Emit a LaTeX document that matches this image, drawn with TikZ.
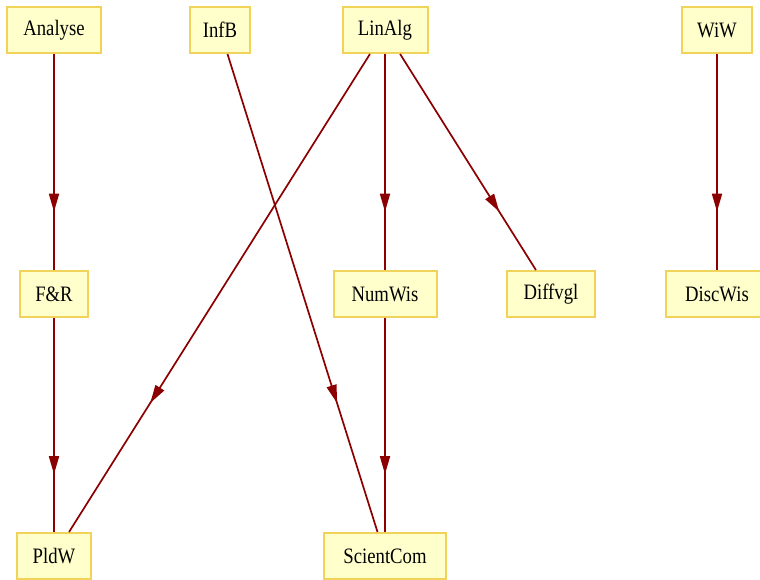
\documentclass[tikz,border=0pt]{standalone}
\usepackage{fontspec}
\setmainfont{Liberation Serif}[FakeStretch=0.85]
\usetikzlibrary{arrows.meta,decorations.markings}
\definecolor{boxfill}{HTML}{FFFFCC}
\definecolor{boxline}{HTML}{F0D358}
\definecolor{edgecol}{HTML}{8B0000}
\begin{document}
\begin{tikzpicture}[
        x=1pt, y=-1pt,
        course/.style={rectangle, draw=boxline, line width=2pt, fill=boxfill, minimum height=46pt, inner sep=0pt, font=\fontsize{22}{24}\selectfont},
        prereq/.style={draw=edgecol, line width=1.7pt, postaction={decorate},
            decoration={markings, mark=at position 0.73 with {\arrow{Triangle[length=18pt,width=10pt]}}}}
    ]
        \useasboundingbox (0,0) rectangle (760,579);

        % Top row
        \node[course, minimum width=94pt] (analyse) at (54,30) {Analyse};
        \node[course, minimum width=60pt] (infb) at (220,30) {InfB};
        \node[course, minimum width=85pt] (linalg) at (385,30) {LinAlg};
        \node[course, minimum width=70pt] (wiw) at (717,30) {WiW};

        % Middle row
        \node[course, minimum width=68pt] (fr) at (54,294) {F\&R};
        \node[course, minimum width=103pt] (numwis) at (385,294) {NumWis};
        \node[course, minimum width=88pt] (diffvgl) at (551,294) {Diffvgl};
        \node[course, minimum width=102pt] (discwis) at (717,294) {DiscWis};

        % Bottom row
        \node[course, minimum width=74pt] (pldw) at (54,556) {PldW};
        \node[course, minimum width=122pt] (scientcom) at (385,556) {ScientCom};

        % Prerequisites
        \draw[prereq] (analyse) -- (fr);
        \draw[prereq] (fr) -- (pldw);
        \draw[prereq] (linalg) -- (pldw);
        \draw[prereq] (linalg) -- (numwis);
        \draw[prereq] (linalg) -- (diffvgl);
        \draw[prereq] (infb) -- (scientcom);
        \draw[prereq] (numwis) -- (scientcom);
        \draw[prereq] (wiw) -- (discwis);

    \end{tikzpicture}
\end{document}
